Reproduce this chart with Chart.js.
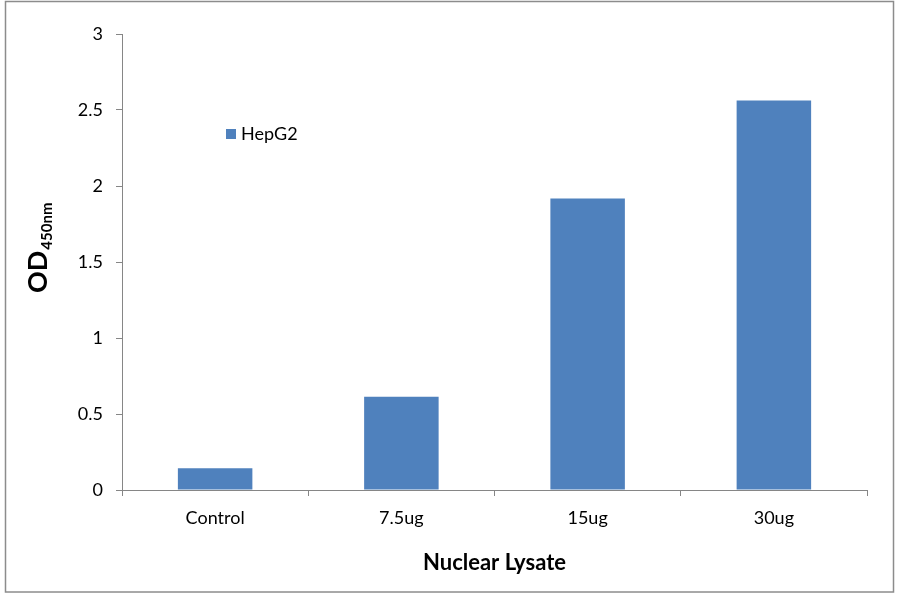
<!DOCTYPE html>
<html>
<head>
<meta charset="utf-8">
<script src="https://cdn.jsdelivr.net/npm/chart.js@4/dist/chart.umd.min.js"></script>
<style>
  html, body { margin: 0; padding: 0; background: #fff; }
  #wrap { width: 900px; height: 594px; position: relative; }
</style>
</head>
<body>
<div id="wrap"><canvas id="odChart"></canvas></div>
<script>
const categories = ['Control', '7.5ug', '15ug', '30ug'];
const hepg2Values = [0.143, 0.614, 1.918, 2.563];
const yTicks = [0, 0.5, 1, 1.5, 2, 2.5, 3];
const seriesName = 'HepG2';

const FONT = 'Lato, "Open Sans", sans-serif';
const AXIS_GREY = '#868686';
const BAR_BLUE = '#4F81BD';

// outer frame + y title with subscript + floating legend
const decorPlugin = {
    id: 'decor',
    beforeDraw(chart) {
        const ctx = chart.ctx;
        ctx.save();
        ctx.fillStyle = '#fff';
        ctx.fillRect(0, 0, chart.width, chart.height);
        ctx.strokeStyle = '#8c8c8c';
        ctx.lineWidth = 1.5;
        ctx.strokeRect(5.5, 1.5, 888, 590.5);
        ctx.restore();
    },
    afterDraw(chart) {
        const ctx = chart.ctx;
        ctx.save();
        // y title: OD with subscript 450nm, rotated
        ctx.translate(37, 293);
        ctx.rotate(-Math.PI / 2);
        ctx.fillStyle = '#000';
        ctx.textBaseline = 'alphabetic';
        ctx.textAlign = 'left';
        ctx.font = 'bold 27px ' + FONT;
        ctx.fillText('OD', 0, 10);
        const w = ctx.measureText('OD').width;
        ctx.font = 'bold 15px ' + FONT;
        ctx.fillText('450nm', w + 1, 15);
        ctx.restore();

        // legend
        const ds = chart.data.datasets[0];
        ctx.save();
        ctx.fillStyle = ds.backgroundColor;
        ctx.fillRect(226, 129, 10, 10);
        ctx.fillStyle = '#000';
        ctx.font = '18px ' + FONT;
        ctx.textBaseline = 'middle';
        ctx.textAlign = 'left';
        ctx.fillText(ds.label, 241, 134);
        ctx.restore();
    }
};

new Chart(document.getElementById('odChart'), {
    type: 'bar',
    data: {
        labels: categories,
        datasets: [{
            label: seriesName,
            data: hepg2Values,
            backgroundColor: BAR_BLUE,
            borderWidth: 0,
            barPercentage: 0.4,
            categoryPercentage: 1.0
        }]
    },
    options: {
        responsive: true,
        maintainAspectRatio: false,
        animation: false,
        devicePixelRatio: 1,
        layout: { padding: { left: 0, top: 34, right: 33, bottom: 0 } },
        plugins: {
            legend: { display: false },
            tooltip: { enabled: false }
        },
        scales: {
            x: {
                grid: {
                    offset: true,
                    drawOnChartArea: false,
                    drawTicks: true,
                    tickLength: 6,
                    color: AXIS_GREY
                },
                border: { color: AXIS_GREY, width: 1 },
                ticks: {
                    color: '#000',
                    padding: 11,
                    font: { family: FONT, size: 18 }
                },
                title: {
                    display: true,
                    text: 'Nuclear Lysate',
                    color: '#000',
                    font: { family: FONT, size: 22, weight: 'bold' },
                    padding: { top: 0, bottom: 18 }
                },
                afterFit(scale) { scale.height = 104; }
            },
            y: {
                min: 0,
                max: 3,
                afterBuildTicks(scale) {
                    scale.ticks = yTicks.map(v => ({ value: v }));
                },
                grid: {
                    drawOnChartArea: false,
                    drawTicks: true,
                    tickLength: 6,
                    color: AXIS_GREY
                },
                border: { color: AXIS_GREY, width: 1 },
                ticks: {
                    color: '#000',
                    padding: 13,
                    font: { family: FONT, size: 18 },
                    callback: v => String(v)
                },
                afterFit(scale) { scale.width = 122; }
            }
        }
    },
    plugins: [decorPlugin]
});
</script>
</body>
</html>
